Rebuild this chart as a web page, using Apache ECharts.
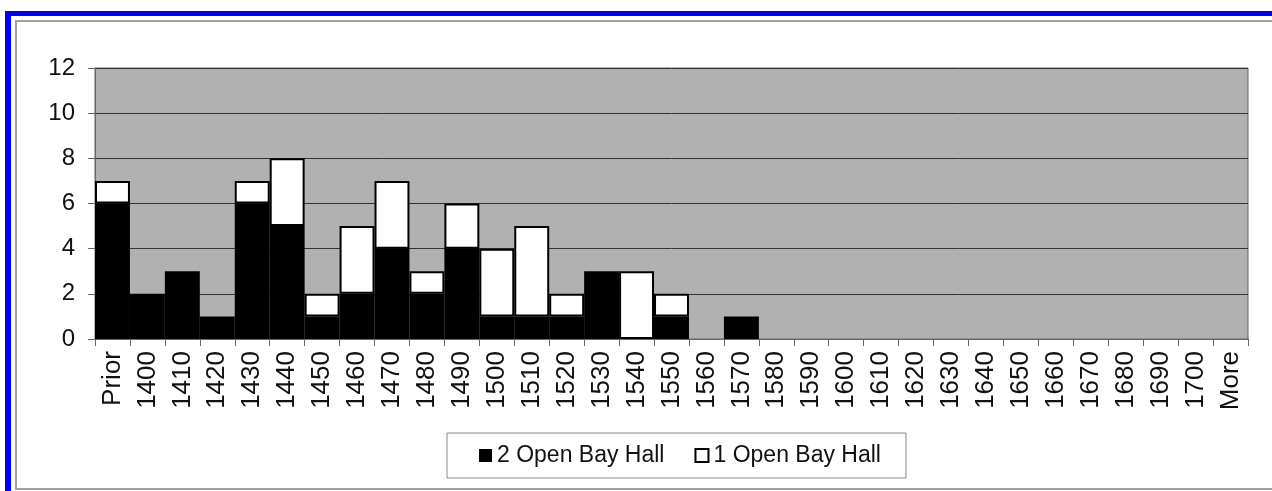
<!DOCTYPE html>
<html>
<head>
<meta charset="utf-8">
<script src="https://cdn.jsdelivr.net/npm/echarts@6/dist/echarts.min.js"></script>
<style>
  html, body { margin: 0; padding: 0; background: #fff; overflow: hidden; }
  #page { position: relative; width: 1272px; height: 491px; overflow: hidden; }
  #blue { position: absolute; left: 5px; top: 11px; width: 1400px; height: 600px;
          border-left: 6px solid #0000ff; border-top: 5px solid #0000ff; }
  #frame { position: absolute; left: 15px; top: 20px; width: 1400px; height: 466px;
           border-left: 2px solid #a0a0a0; border-top: 2px solid #a0a0a0; border-bottom: 2px solid #a0a0a0; }
  #chart { position: absolute; left: 0; top: 0; width: 1272px; height: 491px; }
</style>
</head>
<body>
<div id="page">
  <div id="blue"></div>
  <div id="frame"></div>
  <div id="chart"></div>
</div>
<script>
// categories along the x axis
const categories = ['Prior', '1400', '1410', '1420', '1430', '1440', '1450', '1460', '1470', '1480',
    '1490', '1500', '1510', '1520', '1530', '1540', '1550', '1560', '1570', '1580', '1590',
    '1600', '1610', '1620', '1630', '1640', '1650', '1660', '1670', '1680', '1690', '1700', 'More'];

// counts
const twoOpenBay = [6, 2, 3, 1, 6, 5, 1, 2, 4, 2, 4, 1, 1, 1, 3, 0, 1, 0, 1, 0, 0,
    0, 0, 0, 0, 0, 0, 0, 0, 0, 0, 0, 0];
const oneOpenBay = [1, 0, 0, 0, 1, 3, 1, 3, 3, 1, 2, 3, 4, 1, 0, 3, 1, 0, 0, 0, 0,
    0, 0, 0, 0, 0, 0, 0, 0, 0, 0, 0, 0];

const seriesNames = ['2 Open Bay Hall', '1 Open Bay Hall'];

// zero counts are drawn as no bar at all
const toBars = arr => arr.map(v => (v === 0 ? '-' : v));

const chart = echarts.init(document.getElementById('chart'));

const font = '"Liberation Sans", Arial, sans-serif';

const option = {
    animation: false,
    backgroundColor: 'transparent',
    grid: {
        left: 95, right: 24, top: 68, bottom: 152,
        show: true,
        backgroundColor: '#b1b1b1',
        borderColor: '#666',
        borderWidth: 1
    },
    legend: {
        left: 447, top: 433,
        padding: [11, 25, 11, 32],
        backgroundColor: '#fff',
        borderColor: '#888',
        borderWidth: 1,
        itemWidth: 13,
        itemHeight: 13,
        itemGap: 30,
        textStyle: { fontFamily: font, fontSize: 23, color: '#111' },
        data: [
            { name: seriesNames[0], icon: 'rect', itemStyle: { color: '#000', borderWidth: 0 } },
            { name: seriesNames[1], icon: 'rect', itemStyle: { color: '#fff', borderColor: '#000', borderWidth: 2 } }
        ]
    },
    xAxis: {
        type: 'category',
        data: categories,
        axisLine: { lineStyle: { color: '#666', width: 1 } },
        axisTick: { show: true, length: 7, lineStyle: { color: '#666' } },
        axisLabel: {
            rotate: 90,
            interval: 0,
            margin: 12,
            fontFamily: font,
            fontSize: 26,
            color: '#111'
        }
    },
    yAxis: {
        type: 'value',
        min: 0, max: 12, interval: 2,
        axisLine: { show: true, lineStyle: { color: '#666' } },
        axisTick: { show: true, length: 7, lineStyle: { color: '#666' } },
        splitLine: { lineStyle: { color: '#333', width: 1 } },
        axisLabel: { margin: 20, fontFamily: font, fontSize: 24, color: '#111' }
    },
    series: [
        {
            name: seriesNames[0],
            type: 'bar',
            stack: 'halls',
            barCategoryGap: '0%',
            data: toBars(twoOpenBay),
            itemStyle: { color: '#000', borderColor: '#000', borderWidth: 2 }
        },
        {
            name: seriesNames[1],
            type: 'bar',
            stack: 'halls',
            barCategoryGap: '0%',
            data: toBars(oneOpenBay),
            itemStyle: { color: '#fff', borderColor: '#000', borderWidth: 2 }
        }
    ]
};

chart.setOption(option);
</script>
</body>
</html>
